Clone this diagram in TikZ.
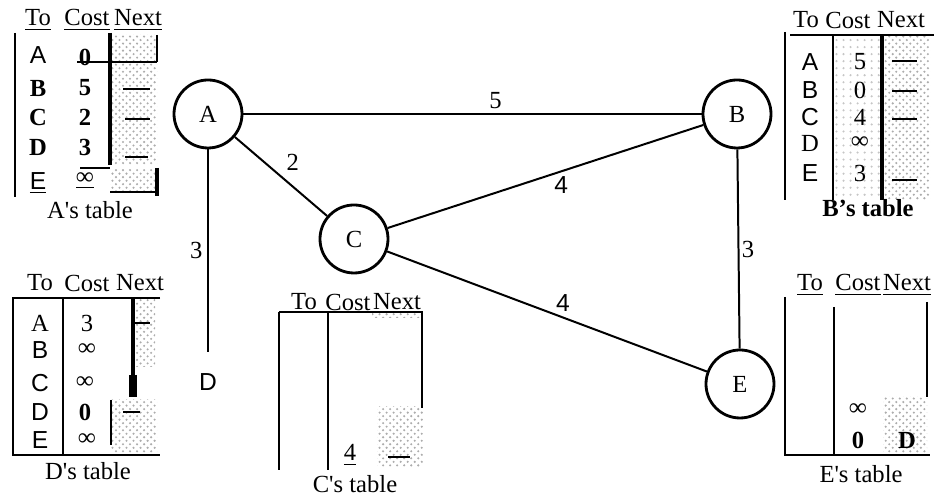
\documentclass[tikz,border=0pt]{standalone}
\usepackage{fontspec}
\setmainfont{Liberation Serif}
\setsansfont{Liberation Sans}
\usetikzlibrary{patterns}
\newcommand\figsize{\fontsize{10.5}{12.5}\selectfont}

\begin{document}
\begin{tikzpicture}[x=0.015cm, y=-0.015cm, font=\figsize,
    router/.style={circle, draw, line width=1.2pt, minimum size=1.02cm, inner sep=0pt},
    link/.style={line width=0.85pt},
    weight/.style={inner sep=2pt},
    sans/.style={font=\figsize\sffamily},
    bf/.style={font=\figsize\bfseries},
    rule/.style={line width=0.7pt},
    bar/.style={line width=1.4pt},
    stipple/.style={pattern=crosshatch dots, pattern color=gray!65},
    light/.style={pattern=dots, pattern color=gray!45},
    hop/.style={line width=1.2pt}]
    \useasboundingbox (0,0) rectangle (936,497);

    \node[router] (A) at (208,114) {A};
    \node[router] (B) at (737,114) {B};
    \node[router] (C) at (354,239) {C};
    \node[router] (E) at (740,384) {E};
    \node[sans] (D) at (208,382) {D};
    \coordinate (Dtop) at (208,352);

    \draw[link] (A) -- node[weight, pos=.55, above] (wab) {5} (B);
    \draw[link] (A) -- node[weight, pos=.5, above right] (wac) {2} (C);
    \draw[link] (A) -- node[weight, pos=.5, left] (wad) {3} (Dtop);
    \draw[link] (C) -- node[weight, sans, pos=.55, below] (wcb) {4} (B);
    \draw[link] (C) -- node[weight, sans, pos=.55, above] (wce) {4} (E);
    \draw[link] (B) -- node[weight, inner sep=1pt, right] (wbe) {3} (E);

    \node (a-hto) at (38,20) {\underline{To}};
    \node (a-hcost) at (87,20) {\underline{Cost}};
    \node (a-hnext) at (138,20) {\underline{Next}};
    \fill[stipple] (110,35) rectangle (157,165);
    \fill[stipple] (110,170) rectangle (157,192);
    \draw[rule] (15,33) -- (15,197);
    \draw[bar] (110,33) -- (110,165);
    \draw[rule] (157,35) -- (157,62);
    \draw[rule] (77,62) -- (157,62);
    \draw[rule] (80,168) -- (110,168);
    \draw[rule] (110,192) -- (157,192);
    \draw[bar] (157,168) -- (157,196);
    \draw[hop] (123,62) -- (147,62);
    \draw[hop] (123,89) -- (150,89);
    \draw[hop] (125,119) -- (150,119);
    \draw[hop] (125,157) -- (148,157);
    \node[sans] (a-ta) at (38,55) {A};
    \node[bf] (a-tb) at (38,88) {B};
    \node[bf] (a-tc) at (38,117) {C};
    \node[bf] (a-td) at (38,147) {D};
    \node[sans] (a-te) at (38,183) {\underline{E}};
    \node[bf] (a-ca) at (85,57) {0};
    \node[bf] (a-cb) at (85,88) {5};
    \node[bf] (a-cc) at (85,117) {2};
    \node[bf] (a-cd) at (85,147) {3};
    \node[bf] (a-ce) at (85,181) {\underline{∞}};
    \node (a-name) at (90,210) {A\textquotesingle s table};

    \node (b-hto) at (806,20) {To};
    \node (b-hcost) at (848,20) {Cost};
    \node (b-hnext) at (901,20) {Next};
    \fill[light] (833,35) rectangle (882,200);
    \fill[stipple] (882,35) rectangle (930,200);
    \draw[rule] (790,35) -- (934,35);
    \draw[rule] (785,32) -- (785,200);
    \draw[rule] (833,35) -- (833,200);
    \draw[bar] (882,35) -- (882,200);
    \draw[hop] (892,61) -- (917,61);
    \draw[hop] (892,91) -- (917,91);
    \draw[hop] (892,119) -- (917,119);
    \draw[hop] (892,180) -- (917,180);
    \node[sans] (b-ta) at (810,62) {A};
    \node[sans] (b-tb) at (810,90) {B};
    \node[sans] (b-tc) at (810,117) {C};
    \node (b-td) at (810,143) {D};
    \node[sans] (b-te) at (810,173) {E};
    \node (b-ca) at (860,62) {5};
    \node (b-cb) at (860,90) {0};
    \node (b-cc) at (860,117) {4};
    \node[bf] (b-cd) at (860,143) {∞};
    \node (b-ce) at (860,173) {3};
    \node[bf] (b-name) at (868,208) {B’s table};

    \node (d-hto) at (40,283) {To};
    \node (d-hcost) at (87,283) {Cost};
    \node (d-hnext) at (140,283) {Next};
    \fill[stipple] (133,298) rectangle (155,367);
    \fill[stipple] (111,400) rectangle (157,453);
    \draw[rule] (160,298) -- (13,298) -- (13,455) -- (160,455);
    \draw[rule] (63,298) -- (63,455);
    \draw[bar] (133,298) -- (133,375);
    \draw[line width=3pt] (133,375) -- (133,397);
    \draw[rule] (111,400) -- (111,445);
    \draw[hop] (133,323) -- (150,323);
    \draw[hop] (123,412) -- (140,412);
    \node (d-ta) at (40,323) {A};
    \node[sans] (d-tb) at (40,350) {B};
    \node[sans] (d-tc) at (40,383) {C};
    \node[sans] (d-td) at (40,412) {D};
    \node[sans] (d-te) at (40,440) {E};
    \node (d-ca) at (87,323) {3};
    \node[bf] (d-cb) at (87,350) {∞};
    \node[bf] (d-cc) at (85,383) {∞};
    \node[bf] (d-cd) at (85,412) {0};
    \node[bf] (d-ce) at (87,440) {∞};
    \node (d-name) at (88,471) {D\textquotesingle s table};

    \node (c-hto) at (304,302) {To};
    \node (c-hcost) at (348,302) {Cost};
    \node (c-hnext) at (397,302) {Next};
    \fill[stipple] (377,407) rectangle (423,467);
    \fill[stipple] (372,312) rectangle (423,318);
    \draw[rule] (279,312) -- (423,312);
    \draw[rule] (279,312) -- (279,470);
    \draw[rule] (328,312) -- (328,470);
    \draw[rule] (422,312) -- (422,408);
    \draw[hop] (388,457) -- (410,457);
    \node (c-cc) at (350,455) {\underline{4}};
    \node (c-name) at (355,484) {C\textquotesingle s table};

    \node (e-hto) at (810,285) {\underline{To}};
    \node (e-hcost) at (858,285) {\underline{Cost}};
    \node (e-hnext) at (907,285) {\underline{Next}};
    \fill[stipple] (883,397) rectangle (927,453);
    \draw[rule] (785,297) -- (785,455) -- (930,455);
    \draw[rule] (834,307) -- (834,455);
    \draw[rule] (927,302) -- (927,397);
    \node[bf] (e-cd) at (858,410) {∞};
    \node[bf] (e-ce) at (858,440) {0};
    \node[bf] (e-ne) at (907,440) {D};
    \node (e-name) at (861,474) {E\textquotesingle s table};
\end{tikzpicture}
\end{document}
